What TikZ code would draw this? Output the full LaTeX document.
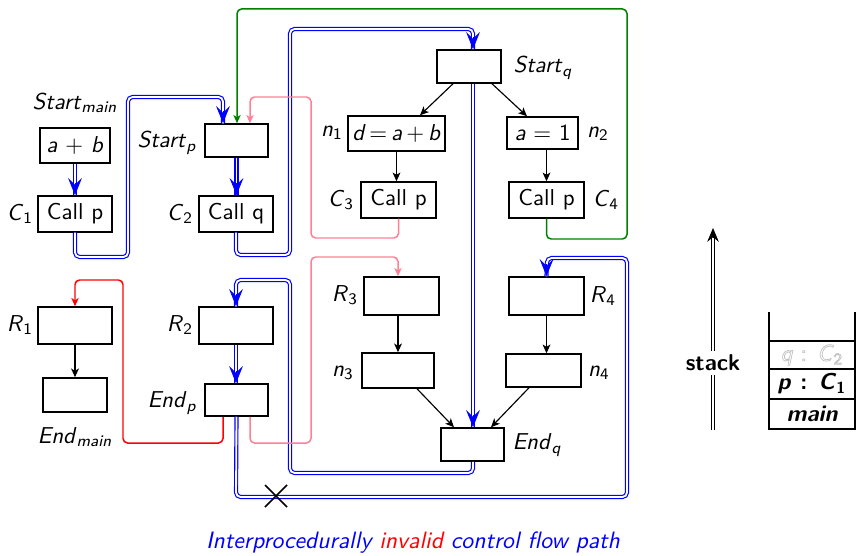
\documentclass[tikz,border=0pt]{standalone}
\usepackage{amsmath}
\usetikzlibrary{arrows.meta,calc}
\renewcommand{\familydefault}{\sfdefault}
\definecolor{pinkc}{RGB}{255,128,150}
\definecolor{greenc}{RGB}{0,128,0}
\def\uu{0.435pt}
\newcommand{\mi}[1]{\textit{#1}}
\newcommand{\lb}[2]{\textit{#1}$_{\text{\itshape #2}}$}
\newcommand{\lbn}[2]{\textit{#1}$_{\text{#2}}$}
\newcommand{\outl}[1]{\special{pdf:literal direct 1 Tr 0.3 w}#1\special{pdf:literal direct 0 Tr}}
\tikzset{
  bx/.style 2 args={draw, line width=0.65pt, inner sep=0pt, minimum width={#1*\uu}, minimum height={#2*\uu}},
  lab/.style={inner sep=0pt},
  arr/.style={line width=0.5pt, -{Stealth[length=3.8pt,width=3.4pt,inset=1pt]}},
  bl/.style={draw=blue, line width=0.5pt, double=white, double distance=0.8pt, rounded corners=2pt},
  btip/.style={draw=blue, fill=blue, line width=0.3pt, -{Stealth[length=7.5pt,width=6pt,inset=3pt]}},
  col/.style={line width=0.65pt, rounded corners=2pt, -{Stealth[length=3.6pt,width=3.2pt,inset=1pt]}},
}
\newcommand{\tipat}[1]{\draw[btip] ($(#1)+(0,-12)$) -- (#1);}
\begin{document}
\begin{tikzpicture}[x=0.435pt,y=-0.435pt, font=\fontsize{10}{12}\selectfont]
\useasboundingbox (0,0) rectangle (861,555);
% nodes
\node[lab] (lsm) at (75,103) {\lb{Start}{main}};
\node[bx={70}{35}] (ab) at (75,145.5) {\mi{a} $+$ \mi{b}};
\node[bx={74}{36}] (c1) at (75,214) {Call p};
\node[lab] (lc1) at (20,214) {\lbn{C}{1}};
\node[bx={63}{33}] (sp) at (236.5,140.5) {};
\node[lab] (lsp) at (167,143) {\lb{Start}{p}};
\node[bx={74}{36}] (c2) at (236,214) {Call q};
\node[lab] (lc2) at (180,214) {\lbn{C}{2}};
\node[bx={64}{33}] (sq) at (469,66.5) {};
\node[lab] (lsq) at (543,68) {\lb{Start}{q}};
\node[bx={97}{35}] (n1) at (396.5,133.5) {\mi{d}$\,{=}\,$\mi{a}$\,{+}\,$\mi{b}};
\node[lab] (ln1) at (332,133) {\lbn{n}{1}};
\node[bx={71}{32}] (n2) at (542.5,133) {\mi{a} $=$ 1};
\node[lab] (ln2) at (598,134) {\lbn{n}{2}};
\node[bx={75}{36}] (c3) at (398.5,200) {Call p};
\node[lab] (lc3) at (341,200) {\lbn{C}{3}};
\node[bx={75}{36}] (c4) at (546.5,200) {Call p};
\node[lab] (lc4) at (606,200) {\lbn{C}{4}};
\node[bx={74}{37}] (r1) at (75,325.5) {};
\node[lab] (lr1) at (20,325) {\lbn{R}{1}};
\node[bx={64}{34}] (em) at (75,395) {};
\node[lab] (lem) at (75,437) {\lb{End}{main}};
\node[bx={74}{37}] (r2) at (236,325.5) {};
\node[lab] (lr2) at (180,325) {\lbn{R}{2}};
\node[bx={63}{32}] (ep) at (236.5,400) {};
\node[lab] (lep) at (172,403) {\lb{End}{p}};
\node[bx={75}{38}] (r3) at (401.5,296) {};
\node[lab] (lr3) at (345,295) {\lbn{R}{3}};
\node[bx={72}{35}] (n3) at (398,370.5) {};
\node[lab] (ln3) at (343,373) {\lbn{n}{3}};
\node[bx={75}{38}] (r4) at (546.5,296) {};
\node[lab] (lr4) at (603,296) {\lbn{R}{4}};
\node[bx={75}{33}] (n4) at (543.5,370.5) {};
\node[lab] (ln4) at (599,373) {\lbn{n}{4}};
\node[bx={63}{33}] (eq) at (472.5,444.5) {};
\node[lab] (leq) at (537,445) {\lb{End}{q}};
% black arrows
\draw[arr] ($(sq.south)+(-16,0)$) -- ($(n1.north)+(23.5,0)$);
\draw[arr] ($(sq.south)+(23,0)$) -- ($(n2.north)+(-15.5,0)$);
\draw[arr] (n1.south) -- (n1.south |- c3.north);
\draw[arr] (c4.north |- n2.south) -- (c4.north);
\draw[arr] (r1.south) -- (em.north);
\draw[arr] (n3.north |- r3.south) -- (n3.north);
\draw[arr] (r4.south) -- (r4.south |- n4.north);
\draw[arr] ($(n3.south)+(19,0)$) -- ($(eq.north)+(-18.5,0)$);
\draw[arr] ($(n4.south)+(-14.5,0)$) -- ($(eq.north)+(18.5,0)$);
% blue double paths
\coordinate (tc1) at (c1.north);
\coordinate (tsp) at ($(sp.north)+(-13.5,0)$);
\coordinate (tc2) at (sp.south |- c2.north);
\coordinate (tsq) at ($(sq.north)+(4,0)$);
\coordinate (teq) at ($(eq.north)+(0.5,0)$);
\coordinate (tr2) at (r2.north);
\coordinate (tep) at (r2.south |- ep.north);
\coordinate (tr4) at (r4.north);
\draw[bl] (ab.south) -- (tc1);
\draw[bl] (c1.south) -- (75,257) -- (128,257) -- (128,97) -- (223,97) -- (tsp);
\draw[bl] (sp.south) -- (tc2);
\draw[bl] (c2.south) -- (236,255) -- (290,255) -- (290,29) -- (473,29) -- (tsq);
\draw[bl] ($(sq.south)+(4,0)$) -- (teq);
\draw[bl] ($(eq.south)+(0.5,0)$) -- (473,473) -- (290,473) -- (290,280) -- (236,280) -- (tr2);
\draw[bl] (r2.south) -- (tep);
\draw[bl] (ep.south) -- (236,497) -- (627,497) -- (627,258) -- (547,258) -- (tr4);
\tipat{tc1}\tipat{tsp}\tipat{tc2}\tipat{tsq}\tipat{teq}\tipat{tr2}\tipat{tep}\tipat{tr4}
% colored paths
\draw[col, draw=greenc] (c4.south) -- (546.5,239) -- (627,239) -- (627,9) -- (237,9) -- ($(sp.north)+(0.5,0)$);
\draw[col, draw=pinkc] (c3.south) -- (398.5,238) -- (311,238) -- (311,97) -- (250,97) -- ($(sp.north)+(13.5,0)$);
\draw[col, draw=pinkc] ($(ep.south)+(13.5,0)$) -- (250,443) -- (311,443) -- (311,257) -- (398,257) -- ($(r3.north)+(-3.5,0)$);
\draw[col, draw=red] ($(ep.south)+(-13.5,0)$) -- (223,443) -- (123,443) -- (123,280) -- (75,280) -- (r1.north);
% cross
\coordinate (xm) at (276,496);
\draw[line width=0.65pt] ($(xm)+(-11,-11)$) -- ($(xm)+(11,11)$);
\draw[line width=0.65pt] ($(xm)+(-11,11)$) -- ($(xm)+(11,-11)$);
% stack arrow
\coordinate (sb) at (713,430);
\coordinate (st) at (713,228);
\draw[line width=0.6pt, double=white, double distance=0.9pt] (sb) -- ($(st)+(0,8)$);
\draw[line width=0.3pt, fill=black, -{Stealth[length=6pt,width=5pt,inset=2pt]}] ($(st)+(0,10)$) -- (st);
\node[fill=white, inner sep=1.5pt, font=\fontsize{10}{12}\selectfont\bfseries] (stk) at (713,363) {stack};
% stack container
\coordinate (s1) at (769,312);
\coordinate (s2) at (769,429);
\coordinate (s3) at (855,429);
\coordinate (s4) at (855,312);
\draw[line width=0.65pt] (s1) -- (s2) -- (s3) -- (s4);
\draw[line width=0.65pt] (769,341) -- (855,341);
\draw[line width=0.65pt] (769,369) -- (855,369);
\draw[line width=0.65pt] (769,399) -- (855,399);
\node[lab, text=black!25] (sq2) at (812,355) {\outl{\mi{q} : \lbn{C}{2}}};
\node[lab, font=\fontsize{10}{12}\selectfont\bfseries] (sp1) at (812,384) {\mi{p} : \lbn{C}{1}};
\node[lab, font=\fontsize{10}{12}\selectfont\bfseries\itshape] (smn) at (812,414) {main};
% caption
\node[lab, font=\fontsize{10.3}{12}\selectfont] (cap) at (413,543) {\itshape\color{blue}Interprocedurally \color{red}invalid \color{blue}control flow path};
\end{tikzpicture}
\end{document}
